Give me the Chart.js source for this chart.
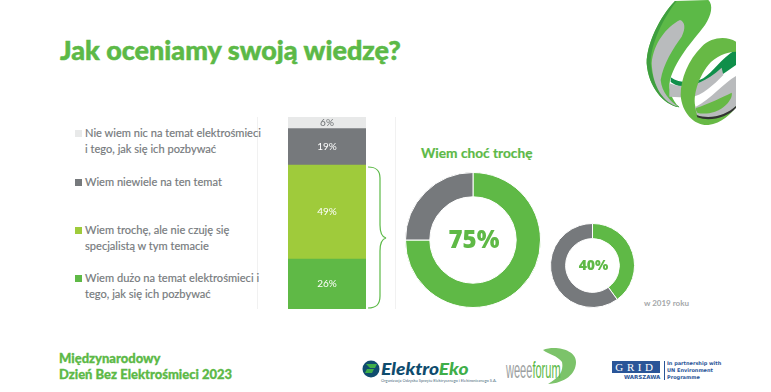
<!DOCTYPE html>
<html lang="pl">
<head>
<meta charset="utf-8">
<title>Jak oceniamy swoją wiedzę?</title>
<script src="https://cdn.jsdelivr.net/npm/chart.js@4"></script>
<style>
    html, body { margin: 0; padding: 0; background: #fff; }
    #slide { position: relative; width: 771px; height: 392px; overflow: hidden; font-family: Lato, sans-serif; }
    #slide canvas, #slide svg, .txt { position: absolute; }
    .txt { white-space: nowrap; }
    #title { left: 60px; top: 33px; font-size: 27px; line-height: 34px; font-weight: 900; color: #5cb947; -webkit-text-stroke: .5px #5cb947; }
    #subtitle { left: 421px; top: 143px; font-size: 13.7px; line-height: 20px; font-weight: 700; color: #5cb947; -webkit-text-stroke: .2px #5cb947; }
    #year { left: 644px; top: 298px; font-size: 8px; line-height: 10px; font-weight: 700; color: #a4a7a9; }
    #footer { left: 59px; top: 351px; font-size: 13px; line-height: 15.5px; font-weight: 900; color: #5cb947; -webkit-text-stroke: .3px #5cb947; }
    .legend-text { left: 85px; font-size: 11.1px; line-height: 16px; color: #75797c; font-weight: 400; -webkit-text-stroke: .15px #75797c; }
    .swatch { position: absolute; left: 75px; width: 7px; height: 7px; }
    .rule { position: absolute; width: 1px; top: 117px; height: 192px; background: #f1f1f1; }
    #ee1 { left: 381px; top: 361.8px; font-size: 16px; line-height: 14px; font-weight: 900; font-style: italic; color: #0f4c6e; transform: scaleX(1.2); transform-origin: left; }
    #ee1 span { color: #3fae49; }
    #ee2 { left: 381px; top: 378px; font-size: 4px; line-height: 5px; color: #4b6a7c; }
    #wf { left: 506px; top: 358px; font-size: 24px; line-height: 24px; font-family: "Liberation Sans Narrow", "Liberation Sans", sans-serif; color: #9c9fa1; transform: scaleX(.46); transform-origin: left; }
    #wf span { color: #5cb947; }
    #grid { left: 612px; top: 361px; width: 48px; height: 12px; background: #2a5598; color: #fff; font: 11px/12px "Liberation Serif", serif; letter-spacing: 3.6px; text-align: center; }
    #wars { left: 624px; top: 374px; font: 700 5.5px/7px "DejaVu Sans", sans-serif; color: #2a5598; }
    #unep { left: 667px; top: 360px; font: 700 5px/7px "DejaVu Sans", sans-serif; color: #2a5598; }
</style>
</head>
<body>
<div id="slide">
    <div class="txt" id="title"></div>
    <div class="rule" style="left:257px"></div>
    <div class="rule" style="left:395px"></div>
    <canvas id="barChart" style="left:288px;top:117px" width="78" height="192"></canvas>
    <svg style="left:366px;top:165px" width="22" height="146" viewBox="0 0 22 146">
        <path d="M2 2 C10 2 14 5 14 13 L14 60 C14 68 16 72 20 73 C16 74 14 78 14 86 L14 131 C14 140 10 143 2 143" fill="none" stroke="#5cb947" stroke-width="1.2"/>
    </svg>
    <div class="txt" id="subtitle"></div>
    <canvas id="donutNow" style="left:405px;top:172px" width="136" height="136"></canvas>
    <canvas id="donutOld" style="left:550px;top:223px" width="85" height="85"></canvas>
    <div class="txt" id="year"></div>
    <div class="txt" id="footer"></div>

    <!-- logo w rogu, coordinates at 3x -->
    <svg style="left:640px;top:0" width="97" height="130" viewBox="0 0 291 390">
        <path d="M105 3 L205 0 C220 15 215 45 195 75 C170 110 110 170 90 240 C85 270 95 300 118 322 C70 315 25 260 20 190 C20 130 60 50 105 3 Z" fill="#5cb947"/>
        <path d="M105 3 C60 50 20 130 20 190 C25 260 70 315 118 322 L115 318 C75 305 38 260 32 190 C32 130 70 55 110 3 Z" fill="#3f9f3f"/>
        <path d="M120 60 C135 65 138 85 125 110 C100 145 70 190 62 240 C65 275 90 305 115 320 C70 310 38 260 35 190 C40 130 80 80 120 60 Z" fill="#b9bbbd"/>
        <path d="M92 232 C120 252 160 250 190 235 C220 215 240 180 288 148 L288 195 C250 220 215 250 185 258 C150 270 115 262 92 246 Z" fill="#0f8f4a"/>
        <path d="M88 250 C120 262 170 270 245 203 L250 225 C220 255 190 285 150 293 L88 290 Z" fill="#b9bbbd"/>
        <path d="M288 125 C260 108 215 110 185 140 C145 180 122 235 122 285 C125 340 165 378 205 375 C245 370 275 340 288 320 L288 310 C250 340 195 350 170 330 C155 300 170 240 205 195 C225 170 260 155 288 155 Z" fill="#67b945"/>
        <path d="M165 322 C215 295 250 250 288 228 L288 318 C265 345 215 360 172 348 Z" fill="#b9bbbd"/>
        <path d="M275 278 C280 295 255 325 225 335 C205 342 185 342 172 338 C168 332 166 328 168 324 C205 312 250 290 275 278 Z" fill="#67b945"/>
        <path d="M170 345 C210 360 260 345 288 318 L288 324 C262 352 210 366 172 352 Z" fill="#333"/>
    </svg>

    <!-- loga na dole -->
    <svg style="left:362px;top:360px" width="18" height="18" viewBox="0 0 18 18">
        <circle cx="9" cy="9" r="8.5" fill="#0f4c6e"/>
        <path d="M4 4 H15 L13 8 H8 M5 9 H12 L10 13 H3 Z" fill="#3fae49"/>
    </svg>
    <div class="txt" id="ee1"></div>
    <div class="txt" id="ee2"></div>
    <svg style="left:540px;top:346px" width="40" height="42" viewBox="540 346 40 42">
        <path d="M543 350 C556 345 576 350 576 362 C576 374 565 383 548 384 C558 378 564 372 562 362 C558 356 548 354 543 350 Z" fill="#7cc36a"/>
    </svg>
    <div class="txt" id="wf"></div>
    <div class="txt" id="grid"></div>
    <div class="txt" id="wars"></div>
    <div style="position:absolute;left:664px;top:361px;width:1px;height:19px;background:#2a5598"></div>
    <div class="txt" id="unep"></div>
</div>

<script>
    const titleText = 'Jak oceniamy swoją wiedzę?';
    const subtitleText = 'Wiem choć trochę';
    const yearText = 'w 2019 roku';
    const footerLines = ['Międzynarodowy', 'Dzień Bez Elektrośmieci 2023'];

    // stacked bar, bottom segment first
    const barCategories = ['Wiem dużo', 'Wiem trochę', 'Wiem niewiele', 'Nie wiem nic'];
    const barValues = [26, 49, 19, 6];
    const barColors = ['#5fb946', '#9fcb3b', '#76797c', '#e8e9e9'];
    const barLabelColors = ['#ffffff', '#ffffff', '#ffffff', '#6d7073'];

    const legendLines = [
        ['Nie wiem nic na temat elektrośmieci', 'i tego, jak się ich pozbywać'],
        ['Wiem niewiele na ten temat'],
        ['Wiem trochę, ale nie czuję się', 'specjalistą w tym temacie'],
        ['Wiem dużo na temat elektrośmieci i', 'tego, jak się ich pozbywać']
    ];
    const legendColors = ['#e8e9e9', '#76797c', '#9fcb3b', '#5fb946'];
    const legendTops = [125, 174, 222, 270];

    const donutNowValues = [75, 25];
    const donutOldValues = [40, 60];
    const donutColors = ['#5fb946', '#76797c'];

    const slide = document.getElementById('slide');

    function setText(id, text) {
        document.getElementById(id).textContent = text;
    }

    setText('title', titleText);
    setText('subtitle', subtitleText);
    setText('year', yearText);
    document.getElementById('footer').innerHTML = footerLines.join('<br>');
    document.getElementById('ee1').innerHTML = 'Elektro<span>Eko</span>';
    setText('ee2', 'Organizacja Odzysku Sprzętu Elektrycznego i Elektronicznego S.A.');
    document.getElementById('wf').innerHTML = 'weee<span>forum</span>';
    setText('grid', 'GRID');
    setText('wars', 'WARSZAWA');
    document.getElementById('unep').innerHTML = 'In partnership with<br>UN Environment<br>Programme';

    legendLines.forEach((lines, i) => {
        const text = document.createElement('div');
        text.className = 'txt legend-text';
        text.style.top = legendTops[i] + 'px';
        text.innerHTML = lines.join('<br>');
        slide.appendChild(text);

        const swatch = document.createElement('div');
        swatch.className = 'swatch';
        swatch.style.top = (legendTops[i] + 5) + 'px';
        swatch.style.background = legendColors[i];
        slide.appendChild(swatch);
    });

    // writes NN% in the middle of each bar segment
    const barLabels = {
        id: 'barLabels',
        afterDatasetsDraw(chart) {
            const ctx = chart.ctx;
            ctx.save();
            ctx.font = '400 10px Lato, sans-serif';
            ctx.textAlign = 'center';
            ctx.textBaseline = 'middle';
            chart.data.datasets.forEach((ds, i) => {
                const bar = chart.getDatasetMeta(i).data[0];
                ctx.fillStyle = barLabelColors[i];
                ctx.fillText(ds.data[0] + '%', bar.x, (bar.y + bar.base) / 2);
            });
            ctx.restore();
        }
    };

    // big number in the hole of a doughnut
    const centerLabel = {
        id: 'centerLabel',
        afterDatasetsDraw(chart, args, opts) {
            const ctx = chart.ctx;
            const arc = chart.getDatasetMeta(0).data[0];
            ctx.save();
            ctx.font = '800 ' + opts.size + 'px "Open Sans", sans-serif';
            ctx.fillStyle = '#5fb946';
            ctx.textAlign = 'center';
            ctx.textBaseline = 'middle';
            ctx.fillText(chart.data.datasets[0].data[0] + '%', arc.x + 1, arc.y + 1);
            ctx.restore();
        }
    };

    new Chart(document.getElementById('barChart'), {
        type: 'bar',
        data: {
            labels: ['Ocena'],
            datasets: barCategories.map((name, i) => ({
                label: name,
                data: [barValues[i]],
                backgroundColor: barColors[i],
                barPercentage: 1,
                categoryPercentage: 1
            }))
        },
        options: {
            responsive: false,
            animation: false,
            layout: { padding: 0 },
            plugins: { legend: { display: false }, tooltip: { enabled: false } },
            scales: {
                x: { stacked: true, display: false },
                y: { stacked: true, display: false, min: 0, max: 100 }
            }
        },
        plugins: [barLabels]
    });

    function drawDonut(id, values, cutout, size) {
        new Chart(document.getElementById(id), {
            type: 'doughnut',
            data: {
                labels: ['Wiem choć trochę', 'Pozostali'],
                datasets: [{
                    data: values,
                    backgroundColor: donutColors,
                    borderColor: '#ffffff',
                    borderWidth: 1
                }]
            },
            options: {
                responsive: false,
                animation: false,
                cutout: cutout,
                layout: { padding: 0 },
                plugins: {
                    legend: { display: false },
                    tooltip: { enabled: false },
                    centerLabel: { size: size }
                }
            },
            plugins: [centerLabel]
        });
    }

    drawDonut('donutNow', donutNowValues, '64%', 24);
    drawDonut('donutOld', donutOldValues, '64%', 14);
</script>
</body>
</html>
